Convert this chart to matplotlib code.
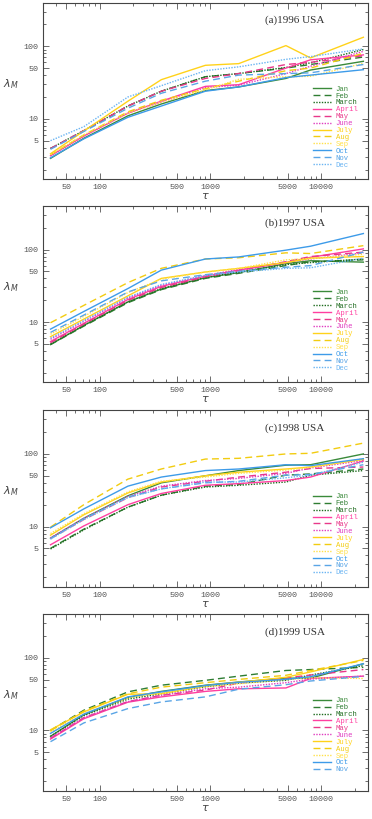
import numpy as np
import matplotlib
matplotlib.use('Agg')
import matplotlib.pyplot as plt
from matplotlib.ticker import FixedLocator, LogLocator, NullFormatter, FixedFormatter

# time scales (x axis)
tau = [36, 72, 180, 360, 900, 1800, 4800, 8000, 24000]

months = ['Jan', 'Feb', 'March', 'April', 'May', 'June',
          'July', 'Aug', 'Sep', 'Oct', 'Nov', 'Dec']

# 1996
y1996 = [
    [2.85, 5.4, 11, 16, 24.5, 27.5, 36, 47, 62],      # Jan
    [3.9, 6.8, 15, 24, 38, 42, 50, 56, 71],           # Feb
    [3.9, 6.9, 15, 24, 38, 42, 51, 59, 90],           # March
    [3.1, 5.8, 12, 17.5, 28, 29.5, 50, 65, 76],       # April
    [3.9, 6.9, 15, 24, 36, 42, 56, 60, 74],           # May
    [3.1, 5.8, 12, 17, 27, 29, 42, 53, 85],           # June
    [3.3, 6.8, 17.5, 34.6, 54.6, 57.6, 102, 69, 133], # July
    [3.2, 6.0, 12.5, 18, 26, 33, 46, 50, 80],         # Aug
    [3.2, 6.0, 12, 17, 25, 35, 38, 38.5, 58],         # Sep
    [2.9, 5.3, 10.5, 15, 24, 27.5, 37, 40, 47.5],     # Oct
    [3.8, 6.7, 14, 22.5, 33, 40, 42, 43, 56],         # Nov
    [5.0, 7.8, 20, 28.6, 46, 52, 66, 72, 92],         # Dec
]

# 1997
y1997 = [
    [4.9, 9.0, 19, 28.5, 41, 48, 64, 70, 67],
    [4.9, 8.8, 18.5, 28, 40, 47, 60, 68, 72],
    [5.0, 9.0, 19, 29, 41, 49, 62, 66, 74],
    [5.4, 9.6, 20.5, 31, 43, 52, 66, 78, 102],
    [5.2, 9.4, 20, 30, 42, 51, 68, 80, 92],
    [5.8, 10.2, 21.5, 32, 44, 53, 67, 74, 90],
    [6.3, 11, 23, 40, 49, 55, 66, 76, 80],
    [9.8, 17, 35, 55, 74, 77, 90, 88, 113],
    [6.8, 12, 25.5, 39, 49, 55, 72, 75, 86],
    [8.0, 14, 29, 52, 74, 79, 98, 111, 166],
    [7.2, 12.5, 26, 37, 45, 50, 57, 60, 92],
    [6.0, 10.5, 22, 33, 44, 49, 55, 56, 76],
]

# 1998
y1998 = [
    [6.9, 13, 26.5, 40, 50, 59, 70, 71, 100],
    [5.0, 9.2, 18.5, 27, 36, 38, 51, 53, 62],
    [4.9, 9.0, 18.5, 27, 35, 37, 41, 51, 59],
    [5.6, 10.2, 20, 28.5, 37, 39, 43, 48, 80],
    [6.8, 12.5, 25, 35, 42, 48, 56, 63, 66],
    [7.0, 13, 26, 36, 43, 46, 54, 64, 81],
    [7.6, 14.5, 29, 41, 50, 56, 62, 66, 84],
    [9.8, 20, 45, 62, 85, 87, 100, 102, 141],
    [8.0, 15, 30, 42, 48, 54, 60, 65, 86],
    [9.6, 17.5, 36, 48, 59, 62, 71, 69, 86],
    [6.8, 12.8, 25.5, 33, 40, 42, 51, 52, 71],
    [6.7, 12.5, 25, 33, 41, 41, 47, 51, 77],
]

# 1999 (no December)
y1999 = [
    [8.3, 16.5, 28.5, 34.5, 42, 46.5, 52.5, 52.5, 83],
    [10, 19, 34, 42, 49, 56, 67, 69, 74],
    [8.3, 16, 27, 32, 40, 45, 49, 58, 78],
    [7.6, 14.5, 24.5, 29, 34.5, 37.5, 38.5, 52, 56],
    [7.8, 15, 25, 30.5, 36, 45, 53, 58, 69],
    [7.9, 15, 25, 30.5, 37.5, 39.5, 45.5, 51, 56],
    [10.2, 18, 31.5, 32, 41, 46, 54, 64, 95],
    [9.9, 18.5, 32, 39.5, 45.5, 50.5, 57.5, 67, 92],
    [9.5, 17, 28, 33, 40, 44, 50, 53, 52],
    [9.1, 16.8, 29, 34, 41.5, 46, 50.5, 55, 83],
    [7.0, 12.7, 20, 24.7, 29, 37, 42.7, 48, 55.5],
]

panels = [('(a)1996 USA', y1996), ('(b)1997 USA', y1997),
          ('(c)1998 USA', y1998), ('(d)1999 USA', y1999)]

colors = ['#3a8a3a', '#2e7d32', '#1e6b1e',
          '#ff3fa0', '#e8388a', '#e03cc0',
          '#ffd21a', '#f2cc10', '#ffe14a',
          '#3d9be9', '#5aa5e6', '#6ab4f2']
styles = ['-', (0, (5, 3)), (0, (1, 1))]

fig = plt.figure(figsize=(3.72, 8.19), dpi=100)
bottoms = [0.7814, 0.5332, 0.2836, 0.0346]
mono = 'Liberation Mono'

for (title, data), b in zip(panels, bottoms):
    ax = fig.add_axes([0.1156, b, 0.874, 0.2155])
    for i, vals in enumerate(data):
        ax.plot(tau, vals, color=colors[i], ls=styles[i % 3], lw=1.0,
                label=months[i])
    ax.set_xscale('log')
    ax.set_yscale('log')
    ax.set_xlim(30.8, 26500)
    ax.set_ylim(1.48, 400)

    ax.xaxis.set_major_locator(FixedLocator([50, 100, 500, 1000, 5000, 10000]))
    ax.xaxis.set_major_formatter(FixedFormatter(['50', '100', '500', '1000', '5000', '10000']))
    ax.xaxis.set_minor_locator(LogLocator(base=10, subs=np.arange(2, 10)))
    ax.xaxis.set_minor_formatter(NullFormatter())
    ax.yaxis.set_major_locator(FixedLocator([5, 10, 50, 100]))
    ax.yaxis.set_major_formatter(FixedFormatter(['5', '10', '50', '100']))
    ax.yaxis.set_minor_locator(LogLocator(base=10, subs=np.arange(2, 10)))
    ax.yaxis.set_minor_formatter(NullFormatter())

    ax.tick_params(which='both', direction='in', top=True, right=True,
                   colors='#555555', labelsize=6, width=0.6)
    ax.tick_params(which='major', length=4)
    ax.tick_params(which='minor', length=2)
    for lab in ax.get_xticklabels() + ax.get_yticklabels():
        lab.set_family(mono)
    for sp in ax.spines.values():
        sp.set_color('#444444')
        sp.set_linewidth(0.8)

    ax.set_xlabel(r'$\tau$', fontsize=8, color='#444444', labelpad=0)
    ax.set_ylabel(r'$\lambda_M$', fontsize=8, color='#444444',
                  rotation=0, labelpad=8)
    ax.yaxis.set_label_coords(-0.1, 0.5)
    ax.text(0.683, 0.9, title, transform=ax.transAxes, fontsize=8,
            family='Liberation Serif', color='#333333', va='center')

    leg = ax.legend(loc='upper left', bbox_to_anchor=(0.82, 0.55),
                    frameon=False, handlelength=2.4,
                    handletextpad=0.7, labelspacing=-0.02,
                    borderpad=0, labelcolor='linecolor',
                    prop={'family': mono, 'size': 5.2})

fig.savefig('out.png', dpi=100)
